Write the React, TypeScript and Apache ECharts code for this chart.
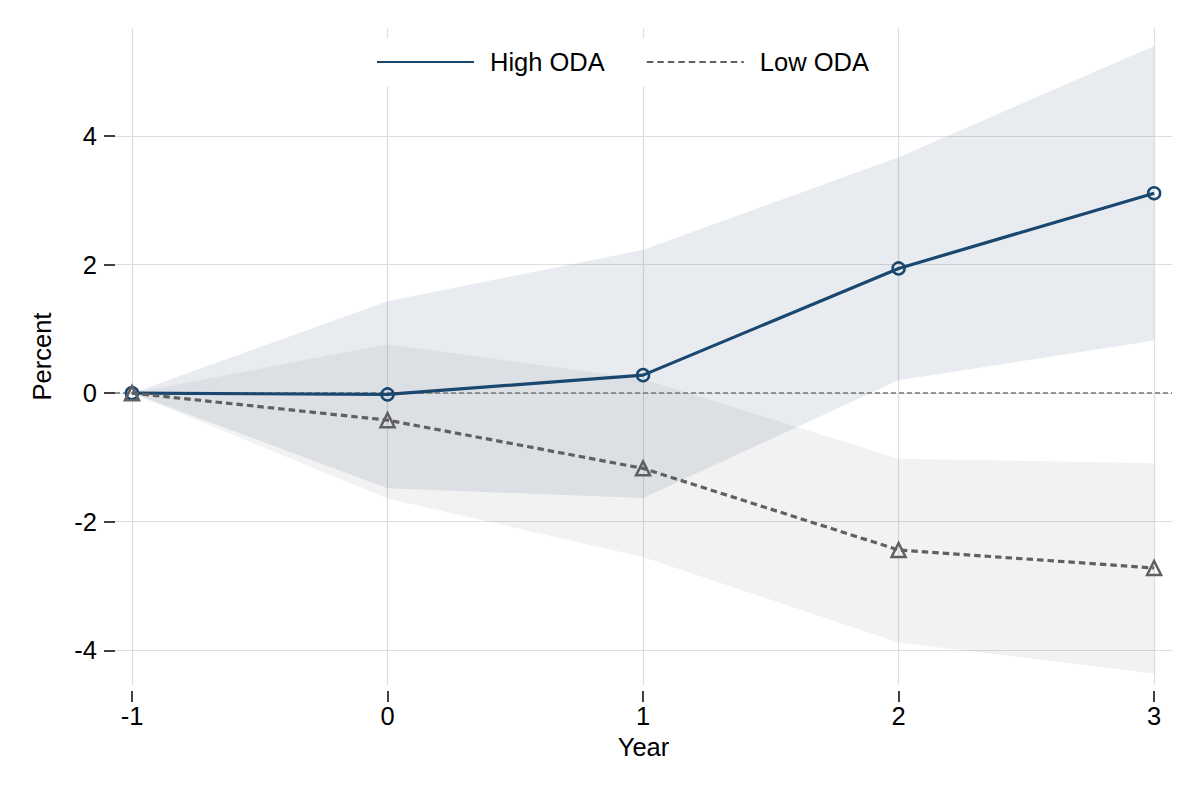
import React, { useEffect, useRef } from 'react';
import * as echarts from 'echarts';

// event-time values
const years = [-1, 0, 1, 2, 3];
const highOda = [0, -0.02, 0.28, 1.94, 3.11];
const highUpper = [0, 1.43, 2.23, 3.67, 5.4];
const highLower = [0, -1.48, -1.63, 0.2, 0.82];
const lowOda = [0, -0.42, -1.17, -2.44, -2.72];
const lowUpper = [0, 0.76, 0.22, -1.02, -1.09];
const lowLower = [0, -1.64, -2.55, -3.88, -4.36];
const yTicks = [-4, -2, 0, 2, 4];

const FONT = 'Liberation Sans, Arial, Helvetica, sans-serif';
const NAVY = '#1a476f';
const GRAY = '#606060';

function band(upper: number[], lower: number[], fill: string, name: string) {
  return {
    type: 'custom',
    name,
    silent: true,
    z: 1,
    data: [[years[0], 0]],
    renderItem: (_params: any, api: any) => {
      const top = years.map((x, i) => api.coord([x, upper[i]]));
      const bottom = years.map((x, i) => api.coord([x, lower[i]])).reverse();
      return {
        type: 'polygon',
        shape: { points: [...top, ...bottom] },
        style: { fill },
      };
    },
  };
}

export default function App() {
  const chartRef = useRef<HTMLDivElement>(null);

  useEffect(() => {
    document.body.style.margin = '0';
    if (!chartRef.current) return;
    const chart = echarts.init(chartRef.current, null, { renderer: 'svg' });

    const axisText = { fontSize: 25.5, color: '#000', fontFamily: FONT };
    const grid = { lineStyle: { color: '#dedede', width: 1.2 } };

    chart.setOption({
      animation: false,
      backgroundColor: '#fff',
      textStyle: { fontFamily: FONT },
      grid: { left: 115, right: 28, top: 28, bottom: 115 },
      legend: {
        data: ['High ODA', 'Low ODA'],
        left: 360,
        top: 38,
        padding: [11, 16],
        backgroundColor: '#fff',
        itemWidth: 97,
        itemHeight: 14,
        itemGap: 41,
        itemStyle: { color: 'rgba(0,0,0,0)', borderColor: 'rgba(0,0,0,0)', borderWidth: 0 },
        textStyle: { ...axisText, padding: [0, 0, 0, 11] },
        selectedMode: false,
      },
      xAxis: {
        type: 'value',
        min: -1.0665,
        max: 3.07,
        offset: 6,
        name: 'Year',
        nameLocation: 'middle',
        nameGap: 42,
        nameTextStyle: axisText,
        axisLine: { show: false, onZero: false },
        axisTick: { customValues: years, length: 11, lineStyle: { color: '#000', width: 1.5 } },
        axisLabel: { customValues: years, margin: 12, ...axisText },
        splitLine: { show: true, ...grid },
      },
      yAxis: {
        type: 'value',
        min: -4.54,
        max: 5.68,
        name: 'Percent',
        nameLocation: 'middle',
        nameGap: 60,
        nameTextStyle: axisText,
        axisLine: { show: false, onZero: false },
        axisTick: { show: true, customValues: yTicks, length: 11, lineStyle: { color: '#000', width: 1.5 } },
        axisLabel: { customValues: yTicks, margin: 18, ...axisText },
        splitLine: { show: true, ...grid },
      },
      series: [
        band(highUpper, highLower, 'rgba(26,71,111,0.1)', 'High CI'),
        band(lowUpper, lowLower, 'rgba(96,96,96,0.082)', 'Low CI'),
        {
          type: 'line',
          name: 'High ODA',
          z: 3,
          data: years.map((x, i) => [x, highOda[i]]),
          symbol: 'circle',
          symbolSize: 12,
          itemStyle: { color: 'rgba(0,0,0,0)', borderColor: NAVY, borderWidth: 2.5 },
          lineStyle: { color: NAVY, width: 3.2 },
          markLine: {
            silent: true,
            symbol: 'none',
            label: { show: false },
            lineStyle: { color: '#777', width: 1.5, type: [5, 3] },
            data: [{ yAxis: 0 }],
            z: 2,
          },
        },
        {
          type: 'line',
          name: 'Low ODA',
          z: 4,
          data: years.map((x, i) => [x, lowOda[i]]),
          symbol: 'triangle',
          symbolSize: 14,
          itemStyle: { color: 'rgba(0,0,0,0)', borderColor: GRAY, borderWidth: 2.5 },
          lineStyle: { color: GRAY, width: 3.2, type: [6.5, 4] },
        },
      ],
    });

    return () => chart.dispose();
  }, []);

  return <div ref={chartRef} style={{ width: '1200px', height: '800px' }} />;
}
